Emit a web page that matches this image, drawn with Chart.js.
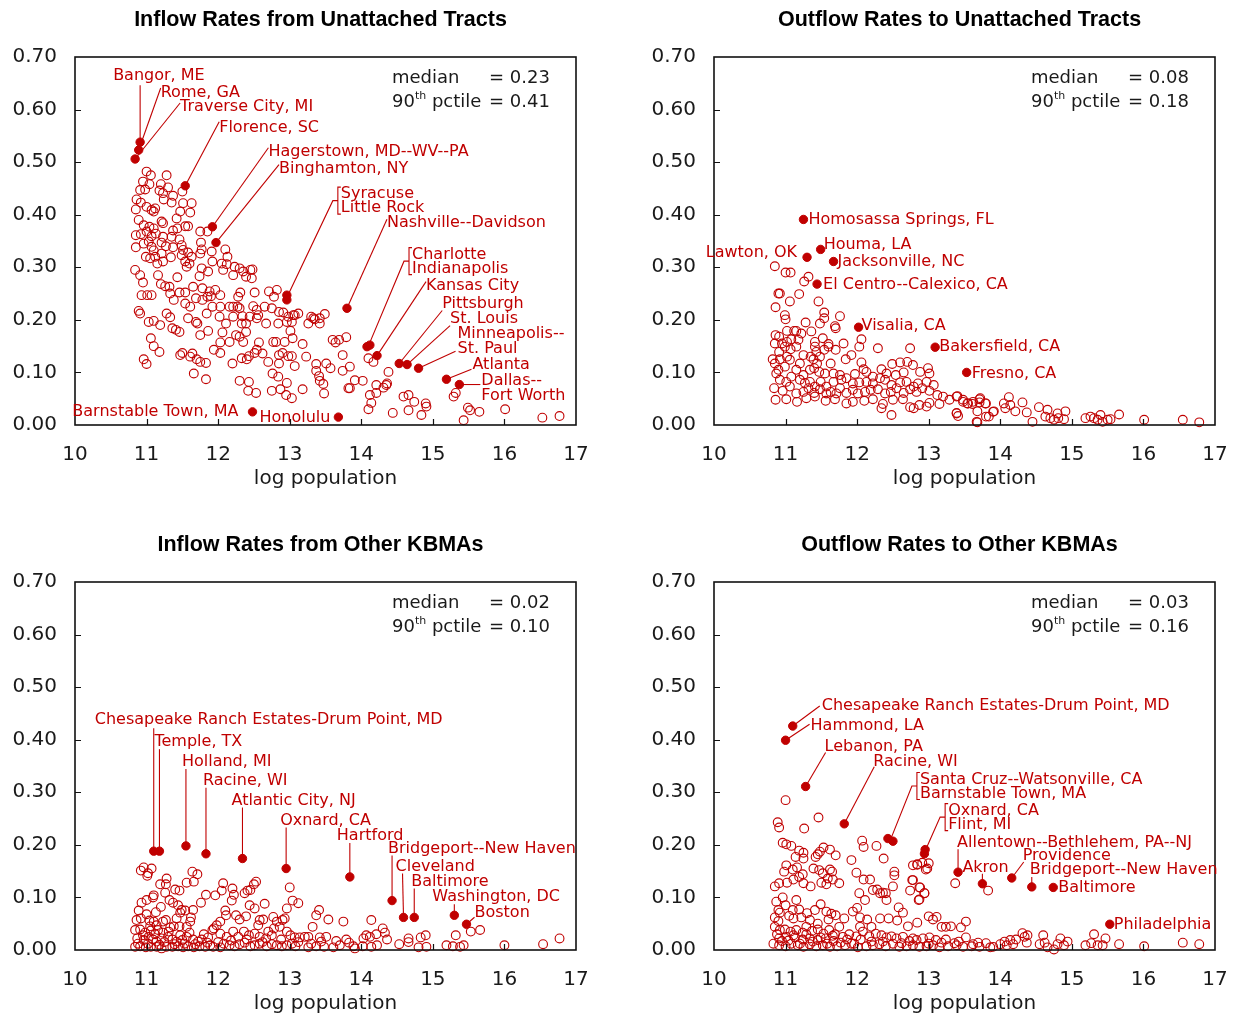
<!DOCTYPE html>
<html>
<head>
<meta charset="utf-8">
<script src="https://cdn.jsdelivr.net/npm/chart.js@4.4.0/dist/chart.umd.min.js"></script>
<style>
  body { margin: 0; background: #fff; width: 1237px; height: 1017px; position: relative; overflow: hidden; }
  canvas { position: absolute; background: #fff; }
</style>
</head>
<body>
<canvas id="inflow-unattached" width="598" height="492" style="left:0;top:0"></canvas>
<canvas id="outflow-unattached" width="598" height="492" style="left:639px;top:0"></canvas>
<canvas id="inflow-kbma" width="598" height="492" style="left:0;top:525px"></canvas>
<canvas id="outflow-kbma" width="598" height="492" style="left:639px;top:525px"></canvas>
<script>
const RED = '#c00000';
const INK = '#1a1a1a';
const FONT = '"DejaVu Sans", "Liberation Sans", sans-serif';
const LINE = 14;

const panelTitles = [
  'Inflow Rates from Unattached Tracts',
  'Outflow Rates to Unattached Tracts',
  'Inflow Rates from Other KBMAs',
  'Outflow Rates to Other KBMAs'
];
const medians = [0.23, 0.08, 0.02, 0.03];
const pctile90 = [0.41, 0.18, 0.10, 0.16];

// ---- inflow from unattached tracts ----
const inflowUnattachedNames = ['Bangor, ME', 'Rome, GA', 'Traverse City, MI', 'Florence, SC',
  'Hagerstown, MD--WV--PA', 'Binghamton, NY', 'Syracuse', 'Little Rock', 'Nashville--Davidson',
  'Charlotte', 'Indianapolis', 'Kansas City', 'Pittsburgh', 'St. Louis', 'Minneapolis--\nSt. Paul',
  'Atlanta', 'Dallas--\nFort Worth', 'Barnstable Town, MA', 'Honolulu'];
const inflowUnattachedX = [10.91, 10.89, 10.84, 11.54, 11.92, 11.97, 12.96, 12.96, 13.80,
  14.08, 14.12, 14.22, 14.53, 14.64, 14.80, 15.19, 15.37, 12.48, 13.68];
const inflowUnattachedY = [0.538, 0.523, 0.506, 0.455, 0.377, 0.347, 0.247, 0.238, 0.222,
  0.149, 0.152, 0.132, 0.117, 0.115, 0.108, 0.087, 0.077, 0.025, 0.015];
const inflowUnattachedOthers = [
  [11.00,0.482],[11.06,0.475],[11.28,0.475],[10.95,0.463],[11.04,0.458],[11.20,0.458],[11.30,0.452],
  [10.91,0.447],[10.98,0.448],[11.18,0.446],[11.23,0.441],[11.37,0.436],[11.50,0.444],[10.86,0.429],
  [10.92,0.423],[10.85,0.410],[11.00,0.415],[11.07,0.409],[11.10,0.406],[11.12,0.412],[11.24,0.429],
  [11.35,0.423],[11.51,0.422],[11.63,0.422],[11.47,0.406],[11.61,0.404],[10.89,0.390],[10.96,0.380],
  [11.04,0.377],[11.10,0.374],[11.21,0.387],[11.23,0.384],[11.42,0.393],[11.54,0.378],[11.58,0.378],
  [11.75,0.368],[11.85,0.368],[10.85,0.361],[10.92,0.363],[11.00,0.368],[11.07,0.359],[11.13,0.364],
  [11.23,0.358],[11.37,0.370],[11.43,0.374],[11.35,0.358],[11.46,0.353],[10.85,0.338],[10.96,0.345],
  [11.03,0.349],[11.07,0.339],[11.10,0.332],[11.21,0.347],[11.27,0.340],[11.37,0.338],[11.49,0.342],
  [11.51,0.333],[11.58,0.328],[11.63,0.320],[11.76,0.347],[11.77,0.334],[10.99,0.320],[11.05,0.317],
  [11.12,0.320],[11.21,0.326],[11.34,0.319],[11.49,0.323],[11.54,0.311],[11.60,0.307],[11.56,0.301],
  [11.15,0.307],[11.23,0.311],[11.75,0.326],[11.91,0.330],[11.92,0.311],[12.10,0.334],[12.13,0.320],
  [12.05,0.307],[12.12,0.306],[12.23,0.301],[12.30,0.298],[12.35,0.292],[12.45,0.295],[12.48,0.296],
  [12.39,0.282],[12.47,0.279],[12.21,0.285],[12.07,0.295],[11.77,0.298],[11.74,0.283],[11.86,0.292],
  [10.84,0.295],[10.91,0.285],[10.95,0.271],[11.16,0.285],[11.20,0.268],[11.26,0.264],[11.32,0.263],
  [11.43,0.281],[11.65,0.263],[11.78,0.260],[11.88,0.254],[11.96,0.257],[12.03,0.247],[12.28,0.244],
  [12.31,0.252],[12.51,0.252],[12.71,0.254],[12.78,0.244],[12.82,0.257],[10.93,0.247],[11.01,0.247],
  [11.07,0.247],[11.33,0.250],[11.38,0.238],[11.46,0.252],[11.54,0.252],[11.54,0.231],[11.61,0.225],
  [11.69,0.241],[11.78,0.238],[11.85,0.244],[11.90,0.245],[11.92,0.225],[12.03,0.225],[12.16,0.225],
  [12.21,0.225],[12.30,0.222],[12.34,0.207],[12.49,0.226],[12.54,0.219],[12.56,0.209],[12.65,0.225],
  [12.75,0.222],[12.85,0.215],[12.91,0.214],[12.98,0.206],[13.05,0.209],[13.12,0.212],[13.30,0.206],
  [13.35,0.201],[13.42,0.193],[13.49,0.211],[10.89,0.217],[10.91,0.212],[11.03,0.196],[11.10,0.198],
  [11.19,0.190],[11.28,0.212],[11.33,0.205],[11.41,0.181],[11.46,0.177],[11.36,0.184],[11.58,0.203],
  [11.69,0.196],[11.71,0.193],[11.84,0.212],[12.02,0.206],[12.11,0.193],[12.21,0.206],[12.27,0.225],
  [12.33,0.193],[12.39,0.193],[12.44,0.206],[12.54,0.203],[12.67,0.193],[12.84,0.193],[12.96,0.196],
  [13.03,0.196],[13.07,0.209],[13.26,0.193],[13.33,0.203],[13.42,0.203],[11.06,0.165],[11.10,0.150],
  [11.18,0.139],[10.96,0.125],[11.00,0.116],[11.47,0.133],[11.50,0.137],[11.61,0.130],[11.64,0.136],
  [11.70,0.125],[11.75,0.120],[11.83,0.118],[11.66,0.098],[11.83,0.087],[11.75,0.171],[11.86,0.179],
  [12.03,0.157],[12.06,0.176],[11.94,0.143],[12.03,0.137],[12.16,0.158],[12.25,0.171],[12.30,0.168],
  [12.35,0.158],[12.39,0.177],[12.20,0.117],[12.30,0.084],[12.33,0.127],[12.40,0.125],[12.43,0.131],
  [12.51,0.137],[12.54,0.143],[12.57,0.157],[12.62,0.136],[12.70,0.120],[12.77,0.158],[12.81,0.158],
  [12.85,0.133],[12.85,0.117],[12.90,0.137],[12.93,0.158],[12.98,0.131],[13.03,0.131],[13.01,0.179],
  [13.04,0.165],[13.07,0.112],[13.18,0.154],[13.23,0.130],[12.76,0.098],[12.84,0.092],[12.96,0.080],
  [12.95,0.057],[13.03,0.051],[12.87,0.068],[12.75,0.065],[12.43,0.082],[12.42,0.065],[12.53,0.061],
  [13.18,0.068],[13.37,0.116],[13.51,0.117],[13.37,0.103],[13.41,0.093],[13.42,0.084],[13.47,0.078],
  [13.48,0.060],[13.60,0.162],[13.64,0.157],[13.69,0.162],[13.74,0.133],[13.79,0.167],[13.57,0.108],
  [13.74,0.103],[13.84,0.111],[13.82,0.070],[13.84,0.070],[13.91,0.085],[14.02,0.084],[14.10,0.127],
  [14.17,0.120],[14.12,0.057],[14.14,0.042],[14.10,0.030],[14.21,0.076],[14.21,0.061],[14.31,0.071],
  [14.35,0.076],[14.38,0.101],[14.36,0.079],[14.44,0.023],[14.59,0.054],[14.66,0.057],[14.74,0.044],
  [14.66,0.028],[14.84,0.019],[14.90,0.041],[14.91,0.035],[15.29,0.054],[15.32,0.061],[15.43,0.009],
  [15.49,0.033],[15.52,0.028],[15.65,0.025],[16.01,0.030],[16.53,0.014],[16.77,0.017]
];
const inflowUnattachedTags = [
  { text: [-27, -66], lead: [0, -57] },
  { text: [22, -57], lead: [22, -62] },
  { text: [45, -52], lead: [45, -56] },
  { text: [34, -58], lead: [34, -64] },
  { text: [56, -75], lead: [56, -79] },
  { text: [63, -74], lead: [63, -78] },
  { text: [54, -101], bracket: 2 },
  null,
  { text: [40, -85], lead: [40, -89] },
  { text: [45, -92], bracket: 2 },
  null,
  { text: [49, -70], lead: [49, -74] },
  { text: [43, -60], lead: [43, -53] },
  { text: [43, -46], lead: [43, -39] },
  { text: [39, -34], lead: [37, -17] },
  { text: [26, -14], lead: [25, -10] },
  { text: [22, -4], lead: [21, 0] },
  { text: [-14, 0], align: 'right' },
  { text: [-8, 1], align: 'right' }
];

// ---- outflow to unattached tracts ----
const outflowUnattachedNames = ['Homosassa Springs, FL', 'Houma, LA', 'Lawton, OK', 'Jacksonville, NC',
  'El Centro--Calexico, CA', 'Visalia, CA', 'Bakersfield, CA', 'Fresno, CA'];
const outflowUnattachedX = [11.25, 11.49, 11.30, 11.67, 11.44, 12.02, 13.09, 13.53];
const outflowUnattachedY = [0.391, 0.334, 0.319, 0.311, 0.268, 0.186, 0.148, 0.100];
const outflowUnattachedOthers = [
  [10.85,0.302],[11.00,0.290],[11.07,0.290],[11.32,0.282],[11.26,0.273],[10.90,0.250],[10.92,0.250],
  [11.19,0.249],[10.86,0.224],[11.06,0.235],[11.46,0.235],[10.99,0.209],[11.00,0.201],[11.54,0.214],
  [11.54,0.203],[11.48,0.193],[11.76,0.207],[11.28,0.195],[11.69,0.188],[11.70,0.184],[10.86,0.171],
  [10.91,0.168],[11.02,0.179],[11.12,0.179],[11.15,0.179],[11.36,0.178],[11.22,0.174],[10.85,0.155],
  [10.95,0.155],[11.02,0.158],[11.08,0.163],[11.18,0.162],[10.99,0.149],[10.91,0.139],[11.07,0.144],
  [11.15,0.149],[11.41,0.158],[11.52,0.165],[11.60,0.149],[11.41,0.149],[11.60,0.154],[11.81,0.155],
  [12.03,0.149],[12.06,0.163],[12.29,0.146],[12.74,0.146],[10.82,0.125],[10.85,0.117],[10.92,0.125],
  [11.02,0.130],[11.06,0.124],[11.20,0.117],[11.25,0.133],[11.35,0.130],[11.39,0.125],[11.43,0.139],
  [11.48,0.130],[11.54,0.143],[11.70,0.143],[11.92,0.133],[11.84,0.125],[12.06,0.119],[12.49,0.116],
  [12.60,0.119],[12.70,0.120],[10.90,0.105],[10.99,0.111],[11.15,0.105],[11.25,0.095],[11.34,0.105],
  [11.40,0.108],[11.44,0.117],[11.47,0.101],[11.55,0.098],[11.63,0.117],[11.67,0.098],[11.76,0.095],
  [11.97,0.097],[12.09,0.106],[12.13,0.101],[12.22,0.092],[12.34,0.106],[12.41,0.098],[12.54,0.095],
  [12.65,0.100],[12.78,0.114],[12.88,0.101],[12.99,0.108],[13.01,0.098],[10.87,0.098],[10.92,0.086],
  [11.01,0.082],[11.08,0.092],[11.20,0.086],[11.27,0.080],[11.34,0.082],[11.41,0.073],[11.49,0.082],
  [11.57,0.073],[11.67,0.082],[11.78,0.086],[11.85,0.089],[11.94,0.079],[12.03,0.081],[12.13,0.082],
  [12.22,0.079],[12.32,0.089],[12.39,0.086],[12.48,0.076],[12.60,0.081],[12.69,0.082],[12.79,0.073],
  [12.85,0.079],[12.97,0.082],[13.07,0.076],[10.84,0.070],[10.96,0.065],[11.06,0.073],[11.15,0.060],
  [11.25,0.063],[11.32,0.070],[11.40,0.061],[11.48,0.068],[11.57,0.060],[11.63,0.063],[11.71,0.060],
  [11.76,0.070],[11.85,0.061],[11.94,0.067],[12.01,0.060],[12.11,0.063],[12.19,0.067],[12.29,0.068],
  [12.39,0.060],[12.47,0.063],[12.55,0.070],[12.65,0.061],[12.74,0.068],[12.83,0.063],[12.91,0.070],
  [13.01,0.065],[13.12,0.057],[13.20,0.054],[13.29,0.048],[13.39,0.054],[13.48,0.044],[13.55,0.041],
  [13.62,0.044],[13.71,0.049],[13.80,0.041],[10.86,0.048],[11.01,0.049],[11.16,0.044],[11.29,0.051],
  [11.41,0.054],[11.56,0.046],[11.69,0.049],[11.85,0.041],[11.94,0.044],[12.10,0.046],[12.22,0.049],
  [12.36,0.040],[12.50,0.048],[12.64,0.049],[12.74,0.034],[12.87,0.038],[13.01,0.042],[13.15,0.040],
  [13.39,0.023],[13.67,0.006],[13.80,0.016],[13.90,0.025],[12.34,0.032],[12.48,0.019],[12.79,0.032],
  [12.97,0.035],[14.05,0.041],[14.12,0.053],[14.07,0.032],[14.14,0.038],[14.21,0.026],[14.31,0.043],
  [14.37,0.024],[14.45,0.006],[14.54,0.034],[14.66,0.029],[14.63,0.016],[14.70,0.013],[14.80,0.022],
  [14.81,0.013],[14.89,0.011],[14.91,0.026],[14.75,0.010],[15.19,0.013],[15.26,0.016],[15.31,0.013],
  [15.40,0.019],[15.36,0.010],[15.43,0.006],[15.50,0.010],[15.54,0.011],[15.66,0.020],[16.01,0.010],
  [16.55,0.010],[16.78,0.005],[13.72,0.051],[13.79,0.041],[13.84,0.016],[13.91,0.026],[13.68,0.026],
  [13.68,0.005],[13.61,0.040],[13.54,0.041],[13.48,0.048],[13.40,0.055],[13.39,0.022],[13.41,0.017],
  [13.71,0.043]
];
const outflowUnattachedTags = [
  { text: [5, 0] },
  { text: [3, -5] },
  { text: [-10, -4], align: 'right' },
  { text: [4, 0] },
  { text: [6, 1] },
  { text: [3, -1] },
  { text: [4, 0] },
  { text: [5, 1] }
];

// ---- inflow from other KBMAs ----
const inflowKbmaNames = ['Chesapeake Ranch Estates-Drum Point, MD', 'Temple, TX', 'Holland, MI',
  'Racine, WI', 'Atlantic City, NJ', 'Oxnard, CA', 'Hartford', 'Bridgeport--New Haven', 'Cleveland',
  'Baltimore', 'Washington, DC', 'Boston'];
const inflowKbmaX = [11.10, 11.18, 11.55, 11.83, 12.34, 12.95, 13.84, 14.43, 14.59, 14.74, 15.30, 15.47];
const inflowKbmaY = [0.188, 0.188, 0.198, 0.183, 0.174, 0.155, 0.139, 0.094, 0.062, 0.062, 0.066, 0.049];
const inflowKbmaOthers = [
  [10.92,0.151],[10.96,0.157],[11.01,0.141],[11.07,0.155],[11.10,0.104],[11.09,0.100],[11.19,0.125],
  [11.27,0.125],[11.28,0.136],[11.26,0.109],[11.20,0.082],[11.40,0.115],[11.46,0.113],[11.37,0.090],
  [11.44,0.085],[11.49,0.076],[11.47,0.071],[11.54,0.075],[11.56,0.128],[11.64,0.149],[11.71,0.144],
  [11.66,0.130],[11.76,0.090],[11.65,0.076],[11.62,0.062],[11.61,0.054],[11.56,0.044],[11.46,0.045],
  [11.38,0.045],[11.33,0.043],[10.89,0.075],[10.86,0.057],[10.92,0.060],[11.00,0.068],[11.04,0.056],
  [11.10,0.054],[11.14,0.047],[11.23,0.054],[11.27,0.057],[10.84,0.038],[10.91,0.039],[10.98,0.033],
  [11.06,0.037],[11.16,0.038],[11.23,0.033],[10.87,0.022],[10.96,0.019],[11.03,0.025],[11.09,0.020],
  [11.14,0.016],[11.21,0.022],[11.30,0.025],[11.36,0.020],[11.42,0.016],[11.50,0.019],[11.56,0.025],
  [11.65,0.020],[11.72,0.016],[10.84,0.006],[10.91,0.007],[10.99,0.005],[11.06,0.006],[11.14,0.006],
  [11.21,0.003],[11.28,0.006],[11.36,0.006],[11.44,0.007],[11.51,0.005],[11.58,0.007],[11.66,0.005],
  [11.74,0.007],[11.82,0.006],[11.89,0.009],[11.93,0.006],[12.03,0.005],[11.77,0.020],[11.85,0.014],
  [11.94,0.041],[11.92,0.038],[11.98,0.047],[12.03,0.054],[12.10,0.075],[12.11,0.066],[12.07,0.127],
  [11.96,0.104],[12.05,0.113],[12.20,0.117],[12.19,0.094],[12.25,0.066],[12.30,0.058],[12.39,0.064],
  [12.37,0.108],[12.41,0.113],[12.45,0.114],[12.44,0.085],[12.51,0.079],[12.53,0.130],[12.50,0.125],
  [12.58,0.057],[12.63,0.058],[12.56,0.047],[12.03,0.031],[12.12,0.025],[12.21,0.035],[12.28,0.025],
  [12.36,0.035],[12.43,0.028],[12.51,0.031],[12.58,0.025],[12.67,0.022],[12.75,0.028],[12.77,0.063],
  [12.82,0.054],[12.90,0.057],[12.93,0.060],[12.96,0.079],[13.00,0.119],[13.04,0.094],[13.12,0.089],
  [12.86,0.044],[12.78,0.041],[12.96,0.035],[13.01,0.028],[13.07,0.024],[13.14,0.024],[13.21,0.025],
  [13.26,0.025],[13.32,0.044],[13.37,0.066],[13.41,0.076],[13.54,0.058],[13.42,0.024],[13.44,0.016],
  [13.51,0.025],[13.75,0.054],[13.65,0.017],[13.79,0.020],[13.83,0.014],[13.89,0.007],[14.03,0.022],
  [14.07,0.028],[14.12,0.025],[14.14,0.057],[14.21,0.030],[12.16,0.009],[12.23,0.007],[12.30,0.011],
  [12.37,0.014],[12.45,0.007],[12.51,0.009],[12.58,0.012],[12.68,0.007],[12.75,0.011],[12.82,0.009],
  [12.89,0.007],[12.96,0.009],[13.03,0.012],[13.08,0.007],[13.26,0.005],[13.37,0.007],[13.48,0.006],
  [13.61,0.005],[13.70,0.009],[13.91,0.003],[14.02,0.007],[14.14,0.006],[14.22,0.009],[14.30,0.041],
  [14.33,0.033],[14.36,0.020],[14.53,0.011],[14.66,0.022],[14.66,0.015],[14.83,0.024],[14.90,0.028],
  [14.91,0.006],[14.80,0.005],[15.19,0.009],[15.28,0.007],[15.32,0.028],[15.38,0.006],[15.43,0.009],
  [15.53,0.035],[15.66,0.038],[16.00,0.009],[16.54,0.011],[16.77,0.022],[11.02,0.146],
  [10.88,0.012],[10.95,0.028],[11.02,0.012],[11.05,0.045],[11.12,0.030],[11.18,0.010],[11.25,0.015],
  [11.31,0.035],[11.39,0.011],[11.47,0.028],[11.53,0.012],[11.60,0.033],[11.68,0.011],[11.80,0.030],
  [11.86,0.024],[12.00,0.015],[12.08,0.012],[12.18,0.018],[12.40,0.020],[12.62,0.015],[12.70,0.035],
  [12.88,0.020],[13.12,0.015],[13.30,0.012],[10.93,0.090],[11.00,0.095],[11.13,0.072],[11.32,0.095],
  [11.42,0.060],[11.83,0.105],[12.22,0.105],[12.65,0.088]
];
const inflowKbmaTags = [
  { text: [-59, -131], lead: [0, -123] },
  { text: [-5, -109], lead: [0, -102] },
  { text: [-4, -84], lead: [0, -77] },
  { text: [-3, -73], lead: [0, -66] },
  { text: [-11, -58], lead: [0, -51] },
  { text: [-6, -48], lead: [0, -41] },
  { text: [-13, -41], lead: [0, -34] },
  { text: [-4, -52], lead: [0, -45] },
  { text: [-8, -51], lead: [-1, -44] },
  { text: [-3, -36], lead: [0, -29] },
  { text: [-22, -18], lead: [0, -11] },
  { text: [8, -11], lead: [8, -7] }
];

// ---- outflow to other KBMAs ----
const outflowKbmaNames = ['Chesapeake Ranch Estates-Drum Point, MD', 'Hammond, LA', 'Lebanon, PA',
  'Racine, WI', 'Santa Cruz--Watsonville, CA', 'Barnstable Town, MA', 'Oxnard, CA', 'Flint, MI',
  'Allentown--Bethlehem, PA--NJ', 'Akron', 'Providence', 'Bridgeport--New Haven', 'Baltimore',
  'Philadelphia'];
const outflowKbmaX = [11.10, 11.00, 11.28, 11.82, 12.43, 12.50, 12.95, 12.94, 13.41, 13.75, 14.16,
  14.44, 14.74, 15.53];
const outflowKbmaY = [0.426, 0.399, 0.311, 0.240, 0.212, 0.207, 0.191, 0.183, 0.148, 0.126, 0.137,
  0.120, 0.119, 0.049];
const outflowKbmaOthers = [
  [10.96,0.204],[11.01,0.201],[11.08,0.198],[11.19,0.189],[11.25,0.185],[11.25,0.174],[11.14,0.177],
  [11.01,0.161],[10.98,0.149],[11.10,0.153],[11.16,0.157],[11.24,0.144],[11.19,0.139],[11.11,0.134],
  [11.02,0.128],[10.91,0.127],[10.85,0.121],[11.25,0.127],[11.35,0.121],[11.53,0.195],[11.62,0.191],
  [11.70,0.180],[11.45,0.182],[11.48,0.187],[11.42,0.177],[11.39,0.155],[11.47,0.152],[11.52,0.146],
  [11.62,0.153],[11.65,0.149],[11.59,0.136],[11.50,0.128],[11.57,0.125],[11.75,0.127],[11.66,0.134],
  [11.92,0.171],[12.07,0.208],[12.09,0.196],[12.27,0.198],[12.37,0.174],[11.99,0.147],[12.09,0.134],
  [12.18,0.134],[12.22,0.114],[12.32,0.108],[12.36,0.109],[12.40,0.108],[12.41,0.095],[12.50,0.121],
  [12.52,0.149],[12.52,0.142],[12.03,0.108],[12.11,0.095],[12.28,0.115],[12.78,0.161],[12.84,0.163],
  [12.91,0.166],[12.96,0.153],[12.77,0.133],[12.74,0.113],[12.87,0.119],[12.86,0.095],[12.94,0.108],
  [13.37,0.127],[13.83,0.113],[10.87,0.092],[10.90,0.076],[10.85,0.062],[10.92,0.071],[11.00,0.085],
  [11.10,0.076],[11.19,0.077],[11.11,0.060],[11.22,0.062],[11.34,0.057],[11.41,0.076],[11.49,0.087],
  [11.57,0.073],[11.64,0.069],[11.70,0.066],[11.75,0.044],[11.94,0.073],[12.04,0.062],[12.14,0.058],
  [12.20,0.044],[12.04,0.044],[12.32,0.060],[12.44,0.060],[12.56,0.056],[12.64,0.071],[12.58,0.081],
  [12.71,0.045],[12.84,0.052],[13.00,0.064],[13.06,0.058],[13.11,0.063],[13.18,0.044],[13.24,0.044],
  [13.31,0.045],[13.45,0.043],[13.52,0.054],[10.85,0.044],[10.92,0.038],[10.99,0.039],[11.07,0.035],
  [11.15,0.038],[11.24,0.033],[11.29,0.044],[11.37,0.036],[11.45,0.039],[11.53,0.031],[11.61,0.038],
  [11.69,0.030],[11.80,0.025],[11.89,0.030],[11.99,0.026],[12.08,0.035],[12.17,0.026],[12.26,0.031],
  [12.34,0.028],[12.41,0.024],[12.48,0.026],[12.55,0.022],[12.64,0.025],[12.73,0.017],[12.83,0.019],
  [12.92,0.022],[13.01,0.024],[13.10,0.019],[13.18,0.014],[13.24,0.020],[13.36,0.013],[13.42,0.016],
  [13.52,0.024],[13.62,0.011],[13.69,0.014],[13.80,0.013],[13.90,0.006],[14.00,0.011],[14.06,0.016],
  [14.14,0.019],[14.22,0.020],[10.83,0.012],[10.91,0.009],[11.00,0.007],[11.08,0.012],[11.17,0.009],
  [11.25,0.006],[11.34,0.011],[11.43,0.007],[11.52,0.009],[11.62,0.006],[11.72,0.007],[11.83,0.009],
  [11.92,0.012],[12.01,0.005],[12.13,0.007],[12.22,0.009],[12.31,0.011],[12.40,0.007],[12.50,0.012],
  [12.59,0.006],[12.69,0.007],[12.78,0.009],[12.87,0.006],[12.97,0.007],[13.06,0.009],[13.15,0.005],
  [13.27,0.007],[13.39,0.009],[13.48,0.006],[13.60,0.007],[13.71,0.006],[13.86,0.005],[14.09,0.009],
  [14.18,0.011],[10.91,0.022],[11.01,0.025],[11.13,0.024],[11.24,0.020],[11.34,0.022],[11.45,0.019],
  [11.56,0.022],[11.67,0.017],[11.00,0.285],[10.89,0.243],[10.91,0.233],[11.46,0.252],[11.26,0.231],
  [14.31,0.032],[14.34,0.025],[14.38,0.028],[14.37,0.014],[14.55,0.011],[14.60,0.028],[14.66,0.005],
  [14.80,0.011],[14.84,0.022],[14.89,0.009],[14.94,0.016],[15.19,0.009],[15.27,0.013],[15.31,0.030],
  [15.36,0.009],[15.43,0.009],[15.47,0.022],[15.66,0.011],[16.01,0.007],[16.55,0.014],[16.78,0.011],
  [14.62,0.014],[14.75,0.001],[12.84,0.162],[13.00,0.165],[12.98,0.155],[12.78,0.133],[12.88,0.119],
  [12.94,0.108],[12.87,0.096],
  [10.88,0.030],[10.95,0.017],[11.04,0.018],[11.11,0.028],[11.20,0.012],[11.29,0.030],[11.38,0.016],
  [11.49,0.024],[11.58,0.012],[11.66,0.027],[11.77,0.014],[11.86,0.020],[11.96,0.012],[12.05,0.020],
  [12.20,0.016],[12.36,0.016],[12.62,0.013],[12.78,0.022],[13.00,0.012],[10.90,0.055],[10.96,0.100],
  [11.05,0.065],[11.15,0.095],[11.30,0.070],[11.45,0.050],[11.60,0.058],[11.82,0.060],[12.00,0.080]
];
const outflowKbmaTags = [
  { text: [29, -20], lead: [27, -20] },
  { text: [25, -14], lead: [24, -16] },
  { text: [19, -40], lead: [20, -34] },
  { text: [29, -62], lead: [30, -57] },
  { text: [32, -59], bracket: 2 },
  null,
  { text: [23, -39], bracket: 2 },
  null,
  { text: [-1, -29], lead: [0, -23] },
  { text: [-20, -16], lead: [0, -10] },
  { text: [11, -22], lead: [12, -16] },
  { text: [-2, -17], lead: [0, -10] },
  { text: [5, 0] },
  { text: [4, 1] }
];

// leaders, brackets, labels, frame and the stats box for one panel
function makeDecor(o) {
  return {
    id: 'decor',
    beforeDatasetsDraw(chart) {
      const { ctx, scales: { x, y } } = chart;
      ctx.save();
      ctx.strokeStyle = RED;
      ctx.lineWidth = 1.1;
      o.tags.forEach((t, i) => {
        if (!t) return;
        const px = x.getPixelForValue(o.xs[i]);
        const py = y.getPixelForValue(o.ys[i]);
        ctx.beginPath();
        if (t.lead) {
          ctx.moveTo(px, py);
          ctx.lineTo(px + t.lead[0], py + t.lead[1]);
        }
        if (t.bracket) {
          let mx = 0, my = 0;
          for (let k = 0; k < t.bracket; k++) {
            mx += x.getPixelForValue(o.xs[i + k]);
            my += y.getPixelForValue(o.ys[i + k]);
          }
          mx /= t.bracket;
          my /= t.bracket;
          const tl = px + t.text[0], tc = py + t.text[1];
          const top = tc - 7, bot = tc + (t.bracket - 1) * LINE + 6;
          const bx = tl - 3, mid = (top + bot) / 2;
          ctx.moveTo(tl, top);
          ctx.lineTo(bx, top);
          ctx.lineTo(bx, bot);
          ctx.lineTo(tl, bot);
          ctx.moveTo(mx, my);
          ctx.lineTo(bx - 5, mid);
          ctx.lineTo(bx, mid);
        }
        ctx.stroke();
      });
      ctx.restore();
    },
    afterDatasetsDraw(chart) {
      const { ctx, chartArea: a, scales: { x, y } } = chart;
      ctx.save();

      // frame with inward ticks
      ctx.strokeStyle = '#111';
      ctx.lineWidth = 1.6;
      ctx.strokeRect(a.left, a.top, a.right - a.left, a.bottom - a.top);
      ctx.lineWidth = 1.2;
      ctx.beginPath();
      for (let v = 1; v <= 6; v++) {
        const py = Math.round(y.getPixelForValue(v / 10)) + 0.5;
        ctx.moveTo(a.left, py);
        ctx.lineTo(a.left + 6, py);
      }
      for (let v = 11; v <= 16; v++) {
        const px = Math.round(x.getPixelForValue(v)) + 0.5;
        ctx.moveTo(px, a.bottom);
        ctx.lineTo(px, a.bottom - 6);
      }
      ctx.stroke();

      // point labels
      ctx.fillStyle = RED;
      ctx.font = '16px ' + FONT;
      ctx.textBaseline = 'middle';
      o.tags.forEach((t, i) => {
        if (!t) return;
        const px = x.getPixelForValue(o.xs[i]);
        const py = y.getPixelForValue(o.ys[i]);
        const tx = px + t.text[0], ty = py + t.text[1];
        ctx.textAlign = t.align || 'left';
        const lines = t.bracket ? o.names.slice(i, i + t.bracket) : o.names[i].split('\n');
        lines.forEach((ln, k) => ctx.fillText(ln, tx, ty + k * (t.bracket ? LINE : 15)));
      });

      // median / 90th percentile box
      ctx.fillStyle = INK;
      ctx.textAlign = 'left';
      const sx = a.left + 317, ex = a.left + 414;
      const y1 = a.top + 21, y2 = a.top + 45;
      ctx.font = '18px ' + FONT;
      ctx.fillText('median', sx, y1);
      ctx.fillText('= ' + o.median.toFixed(2), ex, y1);
      ctx.fillText('90', sx, y2);
      let w = ctx.measureText('90').width;
      ctx.font = '11px ' + FONT;
      ctx.fillText('th', sx + w, y2 - 6);
      w += ctx.measureText('th').width;
      ctx.font = '18px ' + FONT;
      ctx.fillText(' pctile', sx + w, y2);
      ctx.fillText('= ' + o.p90.toFixed(2), ex, y2);

      // panel title
      ctx.font = 'bold 21.5px "Liberation Sans", Arial, sans-serif';
      ctx.textAlign = 'center';
      ctx.fillStyle = '#000';
      ctx.fillText(o.title, (a.left + a.right) / 2 - 5, a.top - 37);
      ctx.restore();
    }
  };
}

function drawPanel(canvasId, k, others, names, xs, ys, tags) {
  const decor = makeDecor({
    title: panelTitles[k], median: medians[k], p90: pctile90[k], names, xs, ys, tags
  });
  return new Chart(document.getElementById(canvasId), {
    type: 'scatter',
    data: {
      datasets: [{
        data: others.map(([vx, vy]) => ({ x: vx, y: vy })),
        borderColor: RED,
        backgroundColor: 'rgba(0,0,0,0)',
        borderWidth: 1.1,
        pointRadius: 4.4,
        clip: false
      }, {
        data: xs.map((vx, i) => ({ x: vx, y: ys[i] })),
        borderColor: RED,
        backgroundColor: RED,
        borderWidth: 1,
        pointRadius: 4.2,
        clip: false
      }]
    },
    options: {
      responsive: false,
      animation: false,
      devicePixelRatio: 1,
      layout: { padding: { top: 57, right: 22, left: 0, bottom: 0 } },
      scales: {
        x: {
          type: 'linear',
          min: 10,
          max: 17,
          grid: { display: false, drawTicks: false },
          border: { display: false },
          ticks: { stepSize: 1, color: INK, font: { family: FONT, size: 20 }, padding: 18 },
          title: {
            display: true,
            text: 'log population',
            color: INK,
            font: { family: FONT, size: 20 },
            padding: { top: 0, bottom: 1 }
          },
          afterFit(s) {
            s.height = 67;
            s.paddingLeft = 0;
            s.paddingRight = 0;
          }
        },
        y: {
          min: 0,
          max: 0.7,
          grid: { display: false, drawTicks: false },
          border: { display: false },
          ticks: {
            stepSize: 0.1,
            color: INK,
            font: { family: FONT, size: 20 },
            padding: 18,
            callback: v => v.toFixed(2)
          },
          afterFit(s) {
            s.width = 75;
            s.paddingTop = 0;
            s.paddingBottom = 0;
          }
        }
      },
      plugins: {
        legend: { display: false },
        tooltip: { enabled: false }
      }
    },
    plugins: [decor]
  });
}

drawPanel('inflow-unattached', 0, inflowUnattachedOthers, inflowUnattachedNames,
  inflowUnattachedX, inflowUnattachedY, inflowUnattachedTags);
drawPanel('outflow-unattached', 1, outflowUnattachedOthers, outflowUnattachedNames,
  outflowUnattachedX, outflowUnattachedY, outflowUnattachedTags);
drawPanel('inflow-kbma', 2, inflowKbmaOthers, inflowKbmaNames,
  inflowKbmaX, inflowKbmaY, inflowKbmaTags);
drawPanel('outflow-kbma', 3, outflowKbmaOthers, outflowKbmaNames,
  outflowKbmaX, outflowKbmaY, outflowKbmaTags);
</script>
</body>
</html>
